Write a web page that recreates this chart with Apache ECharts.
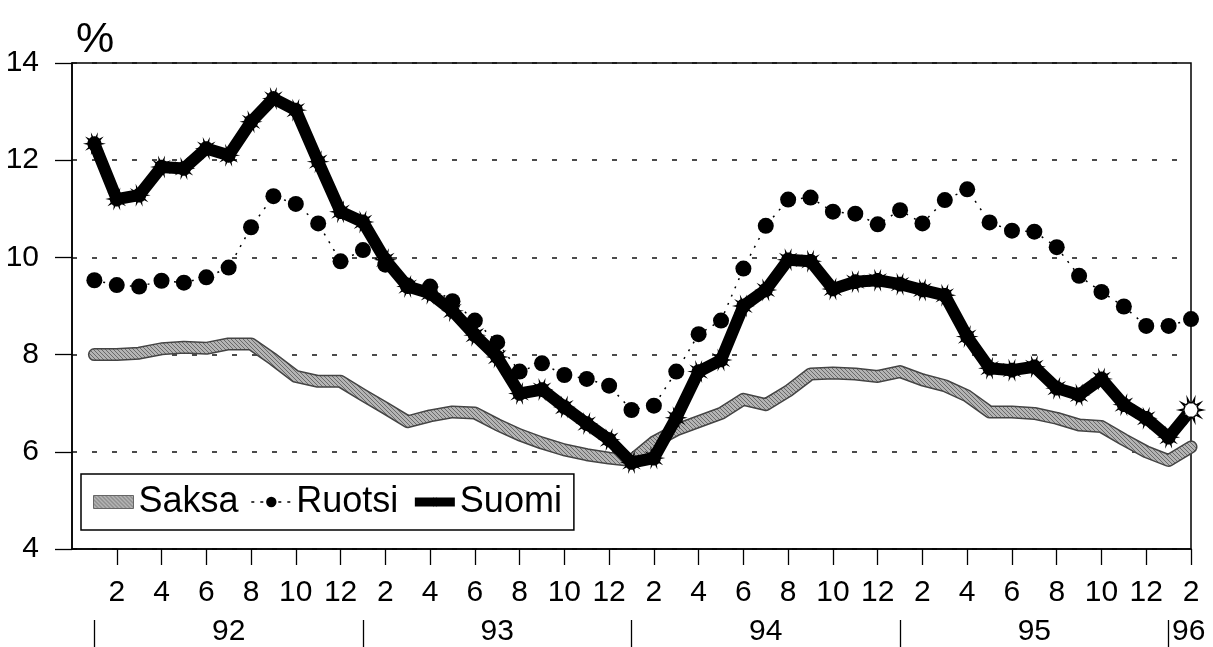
<!DOCTYPE html>
<html>
<head>
<meta charset="utf-8">
<script src="https://cdn.jsdelivr.net/npm/echarts@6/dist/echarts.min.js"></script>
<style>
html,body{margin:0;padding:0;background:#fff;}
#chart{width:1213px;height:647px;}
</style>
</head>
<body>
<div id="chart"></div>
<script>
// Months Jan 1992 .. Feb 1996 (x position = index + 1)
const months = [
 '1/92','2/92','3/92','4/92','5/92','6/92','7/92','8/92','9/92','10/92','11/92','12/92',
 '1/93','2/93','3/93','4/93','5/93','6/93','7/93','8/93','9/93','10/93','11/93','12/93',
 '1/94','2/94','3/94','4/94','5/94','6/94','7/94','8/94','9/94','10/94','11/94','12/94',
 '1/95','2/95','3/95','4/95','5/95','6/95','7/95','8/95','9/95','10/95','11/95','12/95',
 '1/96','2/96'
];
const saksa = [
 8.00,8.00,8.03,8.12,8.15,8.13,8.22,8.22,7.90,7.55,7.45,7.45,
 7.17,6.90,6.62,6.74,6.82,6.80,6.56,6.35,6.18,6.04,5.94,5.87,
 5.82,6.20,6.45,6.62,6.79,7.08,6.97,7.25,7.60,7.62,7.60,7.55,
 7.65,7.48,7.36,7.15,6.82,6.82,6.79,6.69,6.55,6.52,6.25,6.00,
 5.82,6.10
];
const ruotsi = [
 9.53,9.43,9.40,9.52,9.48,9.59,9.79,10.62,11.26,11.10,10.70,9.92,
 10.15,9.85,9.42,9.40,9.10,8.70,8.25,7.65,7.82,7.58,7.50,7.36,
 6.86,6.95,7.65,8.42,8.70,9.77,10.65,11.19,11.23,10.94,10.90,10.68,
 10.97,10.70,11.18,11.40,10.72,10.55,10.53,10.21,9.62,9.29,8.99,8.59,
 8.59,8.73
];
const suomi = [
 12.34,11.20,11.28,11.86,11.83,12.24,12.10,12.79,13.27,13.03,11.97,10.94,
 10.73,9.95,9.40,9.26,8.90,8.40,7.95,7.20,7.28,6.92,6.58,6.25,
 5.78,5.87,6.70,7.65,7.89,9.00,9.33,9.95,9.92,9.35,9.50,9.53,
 9.45,9.33,9.22,8.37,7.72,7.68,7.75,7.31,7.17,7.50,6.97,6.69,
 6.30,6.86
];
const yTicks = ['4','6','8','10','12','14'];
const yearLabels = ['92','93','94','95','96'];
const yearLabelPos = [7,19,31,43,49.9];
const yearSepPos = [1,13,25,37,49];
const seriesNames = ['Saksa','Ruotsi','Suomi'];

const FONT = "'Liberation Sans',Arial,sans-serif";

function pairs(vals){ return vals.map((v,i)=>[i+1,v]); }
function monthOf(cat){ return cat.split('/')[0]; }

// hatch pattern for the grey line
function hatch(){
  const c = document.createElement('canvas');
  c.width = 4; c.height = 4;
  const g = c.getContext('2d');
  g.fillStyle = '#b4b4b4'; g.fillRect(0,0,4,4);
  g.fillStyle = '#6a6a6a';
  g.fillRect(0,0,1,1); g.fillRect(1,1,1,1); g.fillRect(2,2,1,1); g.fillRect(3,3,1,1);
  return c;
}
const hatchPattern = {image: hatch(), repeat:'repeat'};

// spiky marker
function gearPath(n, r, R, w){
  let d = '';
  const steps = 4;
  for(let i=0;i<n;i++){
    const a = 2*Math.PI*i/n;
    const p1 = [r*Math.cos(a-w), r*Math.sin(a-w)];
    const tip = [R*Math.cos(a), R*Math.sin(a)];
    const p2 = [r*Math.cos(a+w), r*Math.sin(a+w)];
    d += (i===0?'M':'L') + p1[0].toFixed(2)+' '+p1[1].toFixed(2);
    d += 'L'+tip[0].toFixed(2)+' '+tip[1].toFixed(2);
    d += 'L'+p2[0].toFixed(2)+' '+p2[1].toFixed(2);
    const aNext = 2*Math.PI*(i+1)/n - w;
    for(let s=1;s<=steps;s++){
      const t = (a+w) + (aNext-(a+w))*s/steps;
      d += 'L'+(r*Math.cos(t)).toFixed(2)+' '+(r*Math.sin(t)).toFixed(2);
    }
  }
  return 'path://' + d + 'Z';
}
const spiky = gearPath(10, 7, 11.5, 0.13);

const suomiData = pairs(suomi);
suomiData[suomiData.length-1] = {
  value: suomiData[suomiData.length-1],
  itemStyle: {color:'#fff', borderColor:'#000', borderWidth:1.5}
};

const chart = echarts.init(document.getElementById('chart'), null, {renderer:'canvas'});
chart.setOption({
  animation:false,
  backgroundColor:'#fff',
  grid:{left:72, right:22, top:63, bottom:97, show:true, borderColor:'#000', borderWidth:1.5, backgroundColor:'transparent'},
  graphic:[{type:'text', left:76, top:19, style:{text:'%', font:'43px '+FONT, fill:'#000'}}],
  legend:{
    left:81, top:474, orient:'horizontal',
    padding:[10,12,10,12], itemGap:12, itemWidth:40, itemHeight:13,
    borderColor:'#000', borderWidth:1.5, backgroundColor:'#fff',
    textStyle:{fontFamily:FONT, fontSize:36, color:'#000'},
    data:[
      {name:seriesNames[0], icon:'rect', itemStyle:{color:hatchPattern, borderColor:'#666', borderWidth:1}},
      {name:seriesNames[1], lineStyle:{width:1.5, type:[3,6]}},
      {name:seriesNames[2], lineStyle:{width:9}}
    ]
  },
  xAxis:[{
    type:'value', min:0, max:50, interval:2,
    axisLine:{show:true, lineStyle:{color:'#000', width:1.5}},
    axisTick:{show:true, length:16, lineStyle:{color:'#000', width:1.3}},
    axisLabel:{
      margin:44, verticalAlign:'middle', fontFamily:FONT, fontSize:30, color:'#000',
      showMinLabel:false, showMaxLabel:true,
      formatter:(v)=> (v>=1 && v<=months.length) ? monthOf(months[Math.round(v)-1]) : ''
    },
    splitLine:{show:false}
  },{
    type:'value', min:0, max:50, position:'bottom', offset:71,
    axisLine:{show:false},
    axisTick:{show:true, customValues:yearSepPos, length:27, lineStyle:{color:'#000', width:1.3}},
    axisLabel:{
      customValues:yearLabelPos, margin:12, verticalAlign:'middle',
      fontFamily:FONT, fontSize:30, color:'#000',
      formatter:(v)=>{ const i = yearLabelPos.indexOf(v); return i>=0 ? yearLabels[i] : ''; }
    },
    splitLine:{show:false}
  }],
  yAxis:{
    type:'value', min:4, max:14, interval:2,
    axisLine:{show:true, lineStyle:{color:'#000', width:1.5}},
    axisTick:{show:true, length:17, lineStyle:{color:'#000', width:1.3}},
    axisLabel:{margin:33, fontFamily:FONT, fontSize:30, color:'#000',
      formatter:(v)=>{ const s=String(v); return yTicks.indexOf(s)>=0 ? s : ''; }},
    splitLine:{show:true, lineStyle:{color:'#111', width:1.5, type:[5,15]}}
  },
  series:[
    {name:'Saksa-reuna', type:'line', data:pairs(saksa), symbol:'none', silent:true,
     lineStyle:{color:'#444', width:13, join:'round', cap:'round'}, z:2},
    {name:seriesNames[0], type:'line', data:pairs(saksa), symbol:'none',
     itemStyle:{color:'#a0a0a0'},
     lineStyle:{color:hatchPattern, width:10, join:'round', cap:'round'}, z:3},
    {name:seriesNames[2], type:'line', data:suomiData, symbol:spiky, symbolSize:23,
     itemStyle:{color:'#000'},
     lineStyle:{color:'#000', width:12, join:'round'}, z:4},
    {name:seriesNames[1], type:'line', data:pairs(ruotsi), symbol:'circle', symbolSize:16,
     itemStyle:{color:'#000'},
     lineStyle:{color:'#000', width:1.5, type:[2,7]}, z:5}
  ]
});
</script>
</body>
</html>
